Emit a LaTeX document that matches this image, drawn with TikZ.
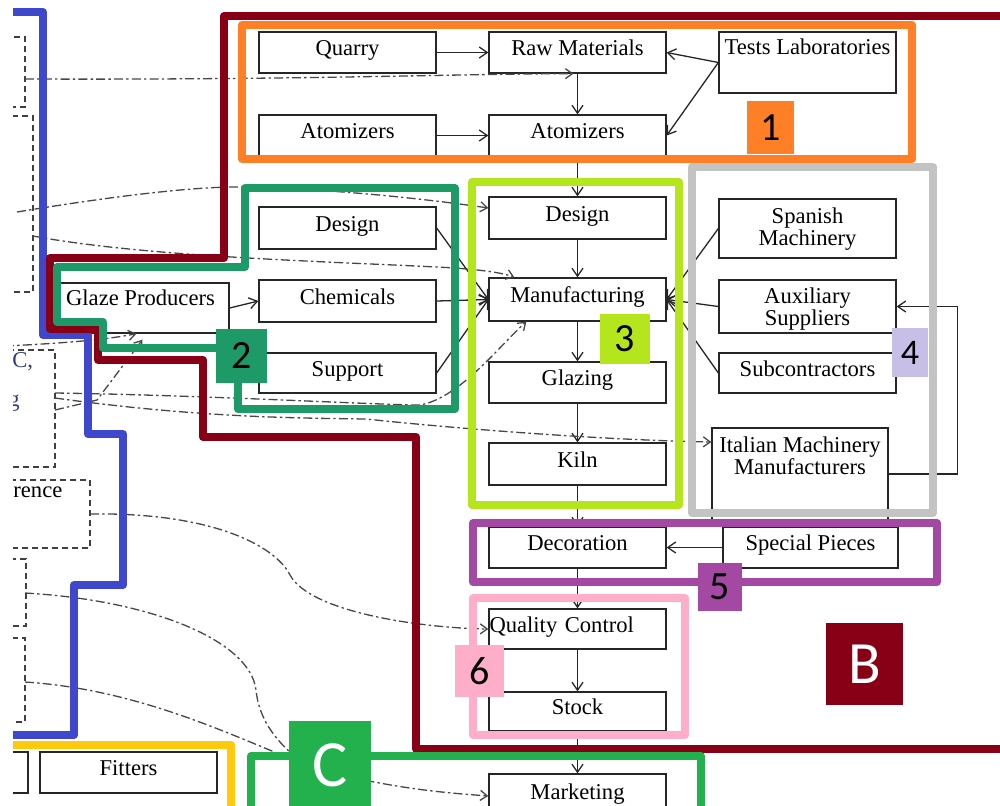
\documentclass[tikz,border=0pt]{standalone}
\usepackage{fontspec}
\setmainfont{Liberation Serif}
\newfontfamily\boxfont{Liberation Serif}
\newfontfamily\labfont{Carlito}
\usetikzlibrary{arrows.meta}
\definecolor{cblue}{HTML}{3F48CC}
\definecolor{cred}{HTML}{880015}
\definecolor{corange}{HTML}{FF7F27}
\definecolor{cteal}{HTML}{1E9A68}
\definecolor{clime}{HTML}{B5E61D}
\definecolor{cgray}{HTML}{C3C3C3}
\definecolor{cpurple}{HTML}{A349A4}
\definecolor{cpink}{HTML}{FFAEC9}
\definecolor{clav}{HTML}{C8BFE7}
\definecolor{cgreenC}{HTML}{22B14C}
\definecolor{cyellow}{HTML}{FFC90E}
\definecolor{cdtext}{HTML}{2F3E7A}
\begin{document}
\begin{tikzpicture}[x=0.5pt,y=-0.5pt,
  box/.style={draw=black!85, line width=0.65pt, fill=white, inner xsep=0pt, inner ysep=0pt,
    minimum width=88.5pt, minimum height=20.5pt, font=\boxfont\fontsize{11.3}{11}\selectfont,
    align=center, text=black, text height=7.5pt, text depth=4.1pt},
  arr/.style={draw=black!85, line width=0.65pt, -{Straight Barb[length=4pt,width=5.5pt]}},
  dd/.style={draw=black!72, line width=0.65pt, dash pattern=on 4.5pt off 1.6pt on 1.2pt off 1.6pt},
  dda/.style={dd, -{Straight Barb[length=3.5pt,width=5pt]}},
  dbox/.style={draw=black!75, line width=0.65pt, dash pattern=on 3pt off 2pt},
  fr/.style={line width=4pt, line join=round},
  lab/.style={inner sep=0pt, font=\labfont\fontsize{20}{20}\selectfont, text=black},
  ltxt/.style={inner sep=0pt, anchor=west, font=\boxfont\fontsize{11.3}{11}\selectfont}
]
\useasboundingbox (0,0) rectangle (1000,805);
\begin{scope}
\clip (13,0) rectangle (1000,805);

% left dashed boxes (partially visible)
\draw[dbox] (-100,37) rectangle (25,107);
\draw[dbox] (-100,116) rectangle (33,292);
\draw[dbox] (-100,350) rectangle (55,467);
\draw[dbox] (-100,480) rectangle (90,548);
\draw[dbox] (-100,559) rectangle (26,626);
\draw[dbox] (-100,638) rectangle (25,722);
\node[ltxt, text=cdtext] (tC) at (12,362) {C,};
\node[ltxt, text=cdtext] (tg) at (8,403) {g};
\node[ltxt, text=black] (trence) at (13,492) {rence};

% nodes
\node[box] (quarry) at (347.5,52.5) {Quarry};
\node[box] (raw) at (577.5,52.5) {Raw Materials};
\node[box, minimum height=30.5pt, text height=11pt, text depth=19.5pt] (tests) at (807.5,62.5) {Tests Laboratories};
\node[box] (atomL) at (347.5,135.5) {Atomizers};
\node[box] (atomR) at (577.5,135.5) {Atomizers};
\node[box, minimum height=21pt] (designL) at (347.5,228) {Design};
\node[box, minimum height=21pt] (chem) at (347.5,301) {Chemicals};
\node[box, minimum height=20pt] (support) at (347.5,373) {Support};
\node[box, minimum height=25pt, text height=11pt, text depth=14pt] (glaze) at (140.5,308) {Glaze Producers};
\node[box, minimum height=21pt] (designC) at (577.5,218) {Design};
\node[box, minimum height=21.5pt] (manuf) at (577.5,299.5) {Manufacturing};
\node[box] (glazing) at (577.5,382.5) {Glazing};
\node[box, minimum height=21pt] (kiln) at (577.5,464) {Kiln};
\node[box, minimum height=29.5pt, text height=18.5pt, text depth=1.6pt] (spanish) at (807.5,228.5) {Spanish\\Machinery};
\node[box, minimum height=26.5pt, text height=19.5pt, text depth=0.6pt] (aux) at (807.5,306.5) {Auxiliary\\Suppliers};
\node[box, minimum height=20pt] (subc) at (807.5,373) {Subcontractors};
\node[box, minimum width=88pt, minimum height=46pt, text height=23.2pt, text depth=22.8pt] (italian) at (800,474) {Italian Machinery\\Manufacturers};
\node[box] (decor) at (577.5,547.5) {Decoration};
\node[box, minimum width=87.5pt] (special) at (810.5,547.5) {Special Pieces};
\node[box, align=left, text width=88pt, inner xsep=0.25pt, minimum height=20pt] (qc) at (577.5,629) {Quality Control};
\node[box, minimum height=19.5pt] (stock) at (577.5,711.5) {Stock};
\node[box, minimum height=22pt] (marketing) at (577.5,796) {Marketing};
\node[box] (fitters) at (128.5,772.5) {Fitters};
\node[box, minimum width=88pt] (leftbox) at (-60,772.5) {};

% solid connectors
\draw[arr] (quarry) -- (raw);
\draw[arr] (atomL) -- (atomR);
\draw[arr] (raw) -- (atomR);
\draw[arr] (tests.west) -- (raw.east);
\draw[arr] (tests.west) -- (atomR.east);
\draw[arr] (atomR) -- (designC);
\draw[arr] (designC) -- (manuf);
\draw[arr] (manuf) -- (glazing);
\draw[arr] (glazing) -- (kiln);
\draw[arr] (kiln) -- (decor);
\draw[arr] (decor) -- (qc);
\draw[arr] (qc) -- (stock);
\draw[arr] (stock) -- (marketing);
\draw[arr] (special) -- (decor);
\draw[arr] (designL.east) -- (manuf.west);
\draw[arr] (chem.east) -- (manuf.west);
\draw[arr] (support.east) -- (manuf.west);
\draw[arr] (glaze.east) -- (chem.west);
\draw[arr] (spanish.west) -- (manuf.east);
\draw[arr] (aux.west) -- (manuf.east);
\draw[arr] (subc.west) -- (manuf.east);
\draw[arr] (italian.east) -- ++(69,0) |- (aux.east);

% dash-dot connectors
\coordinate (s1) at (25,79);
\coordinate (s2) at (17,212);
\coordinate (s3) at (33,236);
\coordinate (s4) at (5,346);
\coordinate (s5) at (55,410);
\coordinate (s6) at (55,393);
\coordinate (s7) at (55,398);
\coordinate (s8) at (90,514);
\coordinate (s9) at (25,593);
\coordinate (e9) at (320,775);
\coordinate (s10) at (25,682);
\draw[dda] (s1) .. controls (300,80) and (450,74) .. ([xshift=-2pt]raw.south);
\draw[dda] (s2) .. controls (120,195) and (200,186) .. (245,187) .. controls (330,189) and (420,198) .. ([yshift=5pt]designC.west);
\draw[dda] (s3) .. controls (150,258) and (350,262) .. (455,268) .. controls (480,270) and (500,272) .. ([xshift=13pt]manuf.north west);
\draw[dda] (s4) .. controls (70,343) and (110,339) .. ([xshift=-2pt]glaze.south);
\draw[dda] (s5) -- (97,400) -- ([xshift=1pt,yshift=-3pt]glaze.south);
\draw[dda] (s6) .. controls (200,395) and (380,405) .. (420,405) .. controls (460,398) and (500,345) .. ([xshift=19pt]manuf.south west);
\draw[dda] (s7) .. controls (200,418) and (300,418) .. (366,419) .. controls (450,428) and (600,440) .. ([yshift=16pt]italian.west);
\draw[dda] (s8) .. controls (210,512) and (275,545) .. (290,575) .. controls (310,612) and (420,628) .. (qc.west);
\draw[dd] (s9) .. controls (150,600) and (250,640) .. (256,690) .. controls (260,730) and (290,755) .. (e9);
\draw[dda] (s10) .. controls (150,690) and (250,745) .. (320,770) .. controls (400,790) and (450,793) .. (marketing.west);

% group frames
\draw[fr, cblue] (0,12) -- (43,12) -- (43,335) -- (88,335) -- (88,434) -- (123,434) -- (123,585) -- (74,585) -- (74,735) -- (0,735);
\draw[fr, cred] (1010,16) -- (224,16) -- (224,258) -- (50,258) -- (50,329) -- (98,329) -- (98,360) -- (203,360) -- (203,437) -- (416,437) -- (416,749) -- (1010,749);
\draw[fr, cteal] (217,348) -- (103,348) -- (103,322) -- (57,322) -- (57,267) -- (245,267) -- (245,188) -- (455,188) -- (455,409) -- (238,409) -- (238,380);
\draw[fr, corange] (242,25) rectangle (912,159);
\draw[fr, clime] (472,182) rectangle (679,505);
\draw[fr, cgray] (692,167) rectangle (933,513);
\draw[fr, cpurple] (473,523) rectangle (937,582);
\draw[fr, cpink] (473,598) rectangle (685,735);
\draw[fr, cyellow] (0,745) -- (231,745) -- (231,820);
\draw[fr, cgreenC] (251,820) -- (251,756) -- (701,756) -- (701,820);

% group labels
\node[lab, fill=corange, minimum width=23.5pt, minimum height=26.5pt] (n1) at (770.5,127.5) {1};
\node[lab, fill=cteal, minimum width=25.5pt, minimum height=27pt] (n2) at (241.5,356) {2};
\node[lab, fill=clime, minimum width=25pt, minimum height=25pt] (n3) at (625,339) {3};
\node[lab, fill=clav, minimum width=18pt, minimum height=24.5pt, font=\labfont\fontsize{18}{18}\selectfont] (n4) at (910,352.5) {4};
\node[lab, fill=cpurple, minimum width=22pt, minimum height=24pt] (n5) at (720,587) {5};
\node[lab, fill=cpink, minimum width=24.5pt, minimum height=26pt] (n6) at (479.5,671) {6};
\node[lab, fill=cred, text=white, minimum width=38.5pt, minimum height=41pt, font=\labfont\fontsize{30}{30}\selectfont] (nB) at (864.5,664) {B};
\node[lab, fill=cgreenC, text=white, minimum width=41pt, minimum height=44.5pt, font=\labfont\fontsize{33}{33}\selectfont] (nC) at (330,765.5) {C};
\end{scope}
\end{tikzpicture}
\end{document}
